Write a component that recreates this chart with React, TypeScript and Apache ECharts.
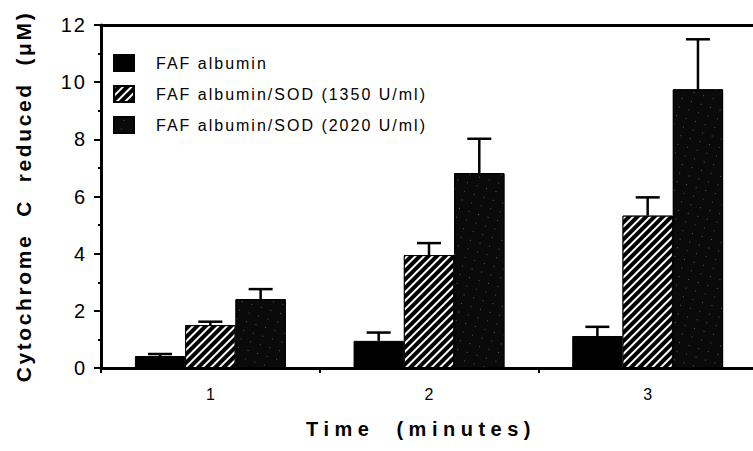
import React, { useEffect, useRef } from "react";
import * as echarts from "echarts";

const categories = ["1", "2", "3"];
const seriesNames = [
  "FAF albumin",
  "FAF albumin/SOD (1350 U/ml)",
  "FAF albumin/SOD (2020 U/ml)",
];
const fafAlbumin = [0.42, 0.95, 1.12];
const fafAlbuminErr = [0.07, 0.29, 0.32];
const sod1350 = [1.5, 3.95, 5.33];
const sod1350Err = [0.12, 0.42, 0.64];
const sod2020 = [2.41, 6.82, 9.75];
const sod2020Err = [0.35, 1.2, 1.75];
const yMin = 0;
const yMax = 12;
const yInterval = 2;
const xTitle = "Time  (minutes)";
const yTitle = "Cytochrome  C  reduced  (\u03bcM)";

const FONT = "'Liberation Sans', Arial, Helvetica, sans-serif";
const BAR_RATIO = 0.23;

function applySpacing(dom: HTMLElement) {
  dom.querySelectorAll("text").forEach((el: any) => {
    const t = el.textContent || "";
    const fs = parseFloat(getComputedStyle(el).fontSize || "0");
    let ls = 0;
    if (t.startsWith("FAF")) ls = 2;
    else if (t.startsWith("Time")) ls = 5.5;
    else if (t.startsWith("Cytochrome")) ls = 2.6;
    else if (/^\d+$/.test(t) && fs >= 18) ls = 2;
    el.setAttribute("letter-spacing", String(ls));
    el.style.whiteSpace = "pre";
  });
}

export default function App() {
  const ref = useRef<HTMLDivElement>(null);

  useEffect(() => {
    if (!ref.current) return;
    const chart = echarts.init(ref.current, undefined, { renderer: "svg" });

    const values = [fafAlbumin, sod1350, sod2020];
    const errs = [fafAlbuminErr, sod1350Err, sod2020Err];
    const errData: number[][] = [];
    values.forEach((arr, k) =>
      arr.forEach((v, i) => errData.push([i, v, errs[k][i], k]))
    );

    const decals: any[] = [
      undefined,
      {
        symbol: "rect",
        symbolSize: 1,
        dashArrayX: [1, 0],
        dashArrayY: [2, 3.5],
        rotation: -Math.PI / 4,
        color: "#ffffff",
      },
      {
        symbol: "rect",
        symbolSize: 1,
        dashArrayX: [1, 9],
        dashArrayY: [1, 8],
        rotation: 0.3,
        color: "rgba(255,255,255,0.35)",
      },
    ];
    const colors = ["#000000", "#000000", "#0a0a0a"];

    const barSeries = seriesNames.map((name, k) => ({
      name,
      type: "bar",
      data: values[k],
      barWidth: `${BAR_RATIO * 100}%`,
      barGap: "0%",
      itemStyle: {
        color: colors[k],
        borderColor: "#000",
        borderWidth: 1,
        decal: decals[k],
      },
      z: 2,
    }));

    const axisLineStyle = { color: "#000000", width: 3, opacity: 1, type: "solid" };

    const option: any = {
      animation: false,
      backgroundColor: "#ffffff",
      grid: {
        left: 101,
        right: -4,
        top: 25,
        bottom: 83,
        outerBoundsMode: "none",
        containLabel: false,
      },
      legend: {
        show: true,
        orient: "vertical",
        left: 108,
        top: 49,
        itemWidth: 20,
        itemHeight: 16,
        itemGap: 13,
        icon: "rect",
        data: seriesNames,
        selectedMode: false,
        textStyle: {
          fontFamily: FONT,
          fontSize: 16,
          color: "#000",
          padding: [0, 0, 0, 17],
        },
      },
      xAxis: [
        {
          type: "category",
          data: categories,
          position: "bottom",
          boundaryGap: true,
          axisLine: { show: true, onZero: false, lineStyle: axisLineStyle },
          axisTick: { show: true, length: 5, lineStyle: { color: "#000", width: 2 } },
          axisLabel: {
            show: true,
            margin: 18,
            fontFamily: FONT,
            fontSize: 16,
            color: "#000",
          },
          splitLine: { show: false },
          name: xTitle,
          nameLocation: "middle",
          nameGap: 51,
          nameTextStyle: {
            fontFamily: FONT,
            fontSize: 20,
            fontWeight: "bold",
            color: "#000",
            padding: [0, 16, 0, 0],
          },
        },
        {
          type: "category",
          data: categories,
          position: "top",
          axisLine: { show: true, onZero: false, lineStyle: axisLineStyle },
          axisTick: { show: false },
          axisLabel: { show: false },
          splitLine: { show: false },
        },
      ],
      yAxis: {
        type: "value",
        position: "left",
        min: yMin,
        max: yMax,
        interval: yInterval,
        axisLine: { show: true, onZero: false, lineStyle: axisLineStyle },
        axisTick: { show: true, length: 7, lineStyle: { color: "#000", width: 2 } },
        minorTick: {
          show: true,
          splitNumber: 2,
          length: 3,
          lineStyle: { color: "#000", width: 2 },
        },
        axisLabel: {
          show: true,
          margin: 14,
          fontFamily: FONT,
          fontSize: 20,
          color: "#000",
        },
        splitLine: { show: false },
        minorSplitLine: { show: false },
        name: yTitle,
        nameLocation: "middle",
        nameRotate: 90,
        nameGap: 67,
        nameTextStyle: {
          fontFamily: FONT,
          fontSize: 21,
          fontWeight: "bold",
          color: "#000",
        },
      },
      series: [
        ...barSeries,
        {
          type: "custom",
          name: "error",
          xAxisIndex: 0,
          yAxisIndex: 0,
          z: 3,
          encode: { x: 0, y: 1 },
          data: errData,
          renderItem: (params: any, api: any) => {
            const cat = api.value(0);
            const v = api.value(1);
            const e = api.value(2);
            const k = api.value(3);
            const base = api.coord([cat, v]);
            const top = api.coord([cat, v + e]);
            const band = api.size([1, 0])[0];
            const bw = band * BAR_RATIO;
            const x = base[0] + (k - 1) * bw;
            const style = { stroke: "#000", lineWidth: 2.5 };
            return {
              type: "group",
              children: [
                {
                  type: "line",
                  shape: { x1: x, y1: base[1], x2: x, y2: top[1] },
                  style,
                },
                {
                  type: "line",
                  shape: { x1: x - 12, y1: top[1], x2: x + 12, y2: top[1] },
                  style,
                },
              ],
            };
          },
        },
      ],
    };

    chart.setOption(option);
    const dom = ref.current;
    applySpacing(dom);
    const onFinished = () => applySpacing(dom);
    chart.on("finished", onFinished);
    const raf = requestAnimationFrame(() => applySpacing(dom));

    return () => {
      cancelAnimationFrame(raf);
      chart.off("finished", onFinished);
      chart.dispose();
    };
  }, []);

  return (
    <div
      ref={ref}
      style={{
        position: "fixed",
        left: 0,
        top: 0,
        width: 753,
        height: 451,
        background: "#fff",
      }}
    />
  );
}
